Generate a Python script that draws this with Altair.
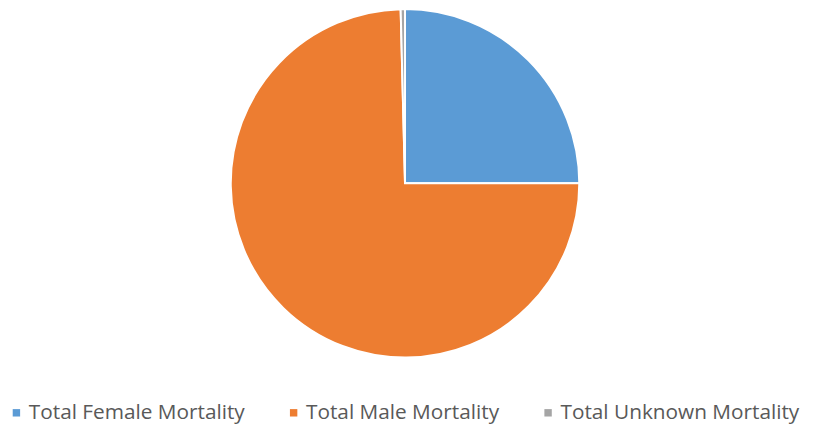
import altair as alt
import pandas as pd

categories = ["Total Female Mortality", "Total Male Mortality", "Total Unknown Mortality"]
values = [25.0, 74.6, 0.4]
colors = ["#5B9BD5", "#ED7D31", "#A5A5A5"]

df = pd.DataFrame({"category": categories, "value": values, "idx": [0, 1, 2]})

chart = alt.Chart(df).mark_arc(
    outerRadius=176, stroke="white", strokeWidth=2
).encode(
    theta=alt.Theta("value:Q", stack=True),
    order=alt.Order("idx:Q"),
    color=alt.Color(
        "category:N",
        scale=alt.Scale(domain=categories, range=colors),
        sort=categories,
        legend=alt.Legend(
            title=None,
            orient="none",
            legendX=-7,
            legendY=396,
            padding=0,
            direction="horizontal",
            symbolType="square",
            symbolSize=56,
            symbolStrokeWidth=0,
            labelFontSize=21,
            labelFont="Open Sans",
            labelColor="#595959",
            labelOffset=2,
            labelLimit=0,
            columnPadding=38,
        ),
    ),
).properties(
    width=792,
    height=350,
    autosize=alt.AutoSizeParams(type="none"),
    padding={"left": 5, "top": 0, "right": 9, "bottom": 72},
).configure_view(stroke=None)

chart.save("out.html", embed_options={"renderer": "svg", "actions": False})
